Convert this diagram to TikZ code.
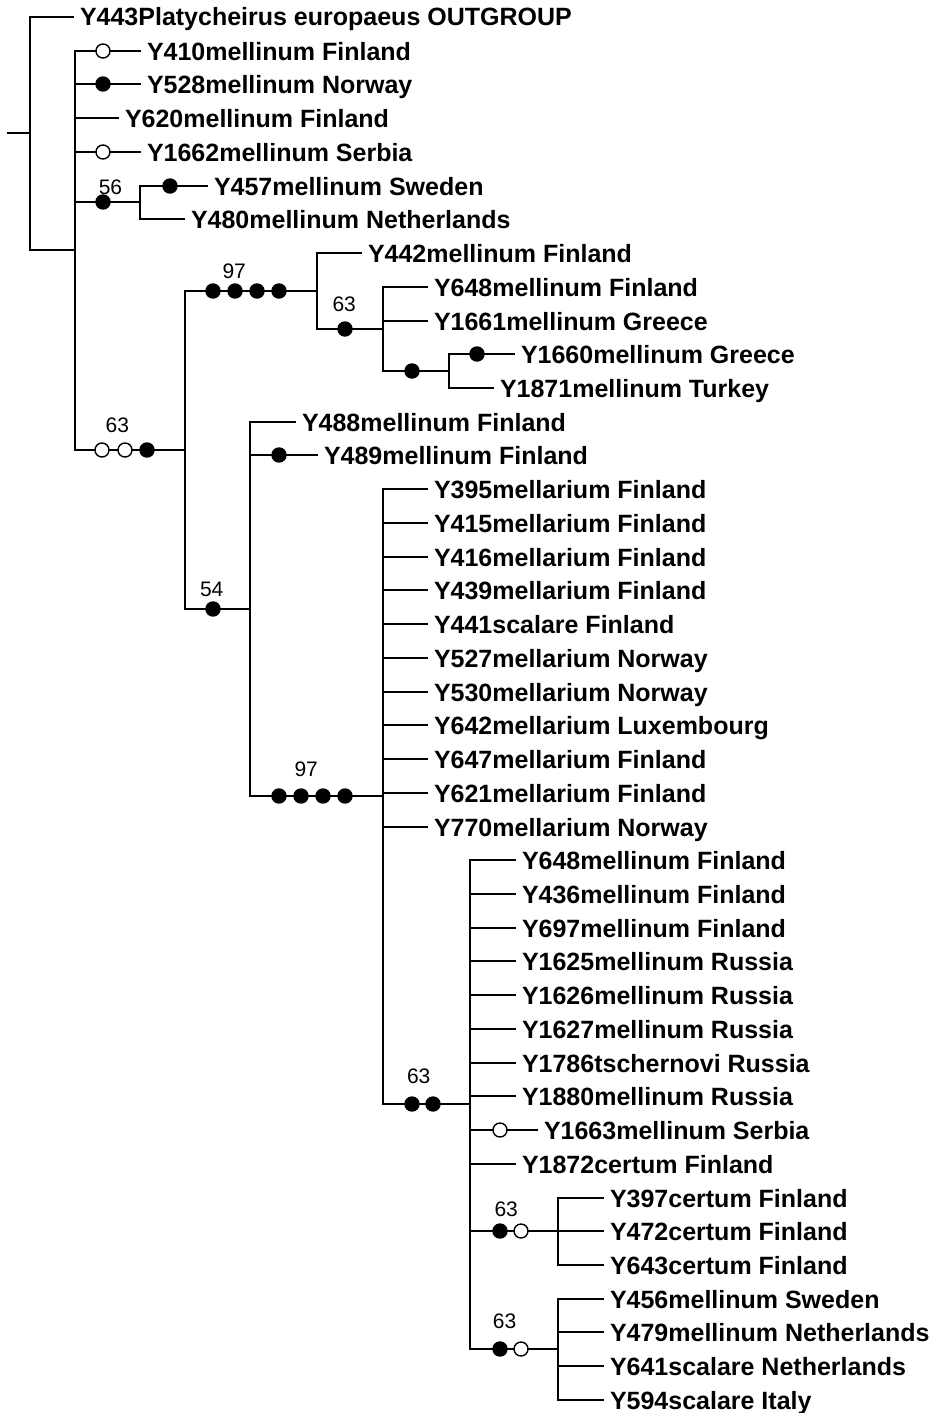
\documentclass[tikz,border=0pt]{standalone}
\usepackage{fontspec}
\setmainfont{Liberation Sans}
\tikzset{
  taxon/.style={anchor=west,inner xsep=5pt,inner ysep=0pt,text height=18pt,text depth=0pt,
    font=\fontsize{25}{25}\selectfont\bfseries},
  boot/.style={inner sep=0pt,text height=15pt,text depth=0pt,font=\fontsize{21}{21}\selectfont},
  syn/.style={fill=black,line width=1.4pt},
  hom/.style={fill=white,line width=1.4pt},
}
\begin{document}
\begin{tikzpicture}[x=1pt,y=-1pt,line width=2pt]
	\useasboundingbox (0,0) rectangle (936,1413);
	% inner nodes
	\coordinate (stub) at (7,133);
	\coordinate (root) at (30,133);
	\coordinate (n2) at (75,250);
	\coordinate (n56) at (140,202);
	\coordinate (n63a) at (185,450);
	\coordinate (n97a) at (317,291);
	\coordinate (n63b) at (383,329);
	\coordinate (nX) at (449,371);
	\coordinate (n54) at (250,609);
	\coordinate (n97b) at (383,796);
	\coordinate (n63c) at (470,1104);
	\coordinate (n63d) at (558,1231);
	\coordinate (n63e) at (558,1349);
	% taxa
	\node[taxon] (t443) at (74,17) {Y443Platycheirus europaeus OUTGROUP};
	\node[taxon] (t410) at (141,51) {Y410mellinum Finland};
	\node[taxon] (t528) at (141,84) {Y528mellinum Norway};
	\node[taxon] (t620) at (119,118) {Y620mellinum Finland};
	\node[taxon] (t1662) at (141,152) {Y1662mellinum Serbia};
	\node[taxon] (t457) at (208,186) {Y457mellinum Sweden};
	\node[taxon] (t480) at (185,219) {Y480mellinum Netherlands};
	\node[taxon] (t442) at (362,253) {Y442mellinum Finland};
	\node[taxon] (t648) at (428,287) {Y648mellinum Finland};
	\node[taxon] (t1661) at (428,321) {Y1661mellinum Greece};
	\node[taxon] (t1660) at (515,354) {Y1660mellinum Greece};
	\node[taxon] (t1871) at (494,388) {Y1871mellinum Turkey};
	\node[taxon] (t488) at (296,422) {Y488mellinum Finland};
	\node[taxon] (t489) at (318,455) {Y489mellinum Finland};
	\node[taxon] (t395) at (428,489) {Y395mellarium Finland};
	\node[taxon] (t415) at (428,523) {Y415mellarium Finland};
	\node[taxon] (t416) at (428,557) {Y416mellarium Finland};
	\node[taxon] (t439) at (428,590) {Y439mellarium Finland};
	\node[taxon] (t441) at (428,624) {Y441scalare Finland};
	\node[taxon] (t527) at (428,658) {Y527mellarium Norway};
	\node[taxon] (t530) at (428,692) {Y530mellarium Norway};
	\node[taxon] (t642) at (428,725) {Y642mellarium Luxembourg};
	\node[taxon] (t647) at (428,759) {Y647mellarium Finland};
	\node[taxon] (t621) at (428,793) {Y621mellarium Finland};
	\node[taxon] (t770) at (428,827) {Y770mellarium Norway};
	\node[taxon] (t648b) at (516,860) {Y648mellinum Finland};
	\node[taxon] (t436) at (516,894) {Y436mellinum Finland};
	\node[taxon] (t697) at (516,928) {Y697mellinum Finland};
	\node[taxon] (t1625) at (516,961) {Y1625mellinum Russia};
	\node[taxon] (t1626) at (516,995) {Y1626mellinum Russia};
	\node[taxon] (t1627) at (516,1029) {Y1627mellinum Russia};
	\node[taxon] (t1786) at (516,1063) {Y1786tschernovi Russia};
	\node[taxon] (t1880) at (516,1096) {Y1880mellinum Russia};
	\node[taxon] (t1663) at (538,1130) {Y1663mellinum Serbia};
	\node[taxon] (t1872) at (516,1164) {Y1872certum Finland};
	\node[taxon] (t397) at (604,1198) {Y397certum Finland};
	\node[taxon] (t472) at (604,1231) {Y472certum Finland};
	\node[taxon] (t643) at (604,1265) {Y643certum Finland};
	\node[taxon] (t456) at (604,1299) {Y456mellinum Sweden};
	\node[taxon] (t479) at (604,1332) {Y479mellinum Netherlands};
	\node[taxon] (t641) at (604,1366) {Y641scalare Netherlands};
	\node[taxon] (t594) at (604,1400) {Y594scalare Italy};
	% branches
	\draw (stub) -- (root)
	(root) |- (t443) (root) |- (n2)
	(n2) |- (t410) (n2) |- (t528) (n2) |- (t620) (n2) |- (t1662)
	(n2) |- (n56) (n2) |- (n63a)
	(n56) |- (t457) (n56) |- (t480)
	(n63a) |- (n97a) (n63a) |- (n54)
	(n97a) |- (t442) (n97a) |- (n63b)
	(n63b) |- (t648) (n63b) |- (t1661) (n63b) |- (nX)
	(nX) |- (t1660) (nX) |- (t1871)
	(n54) |- (t488) (n54) |- (t489) (n54) |- (n97b)
	(n97b) |- (t395) (n97b) |- (t415) (n97b) |- (t416) (n97b) |- (t439)
	(n97b) |- (t441) (n97b) |- (t527) (n97b) |- (t530) (n97b) |- (t642)
	(n97b) |- (t647) (n97b) |- (t621) (n97b) |- (t770) (n97b) |- (n63c)
	(n63c) |- (t648b) (n63c) |- (t436) (n63c) |- (t697) (n63c) |- (t1625)
	(n63c) |- (t1626) (n63c) |- (t1627) (n63c) |- (t1786) (n63c) |- (t1880)
	(n63c) |- (t1663) (n63c) |- (t1872) (n63c) |- (n63d) (n63c) |- (n63e)
	(n63d) |- (t397) (n63d) |- (t472) (n63d) |- (t643)
	(n63e) |- (t456) (n63e) |- (t479) (n63e) |- (t641) (n63e) |- (t594)
	;
	% character changes
	\filldraw [hom] (103,51)circle(7pt) (103,152)circle(7pt)
	(102,450)circle(7pt) (125,450)circle(7pt)
	(500,1130)circle(7pt) (521,1231)circle(7pt) (521,1349)circle(7pt);
	\filldraw [syn] (103,84)circle(7pt) (103,202)circle(7pt) (170,186)circle(7pt)
	(147,450)circle(7pt)
	(213,291)circle(7pt) (235,291)circle(7pt) (257,291)circle(7pt) (279,291)circle(7pt)
	(345,329)circle(7pt) (412,371)circle(7pt) (477,354)circle(7pt)
	(213,609)circle(7pt) (279,455)circle(7pt)
	(279,796)circle(7pt) (301,796)circle(7pt) (323,796)circle(7pt) (345,796)circle(7pt)
	(412,1104)circle(7pt) (433,1104)circle(7pt)
	(500,1231)circle(7pt) (500,1349)circle(7pt);
	% support values
	\node[boot] (b56) at (110.5,187) {56};
	\node[boot] (b97a) at (234.2,270.8) {97};
	\node[boot] (b63b) at (344.2,303.8) {63};
	\node[boot] (b63a) at (117.3,425) {63};
	\node[boot] (b54) at (211.7,589) {54};
	\node[boot] (b97b) at (306.2,768.7) {97};
	\node[boot] (b63c) at (418.7,1076.2) {63};
	\node[boot] (b63d) at (506.2,1209.2) {63};
	\node[boot] (b63e) at (504.5,1320.8) {63};
\end{tikzpicture}
\end{document}
